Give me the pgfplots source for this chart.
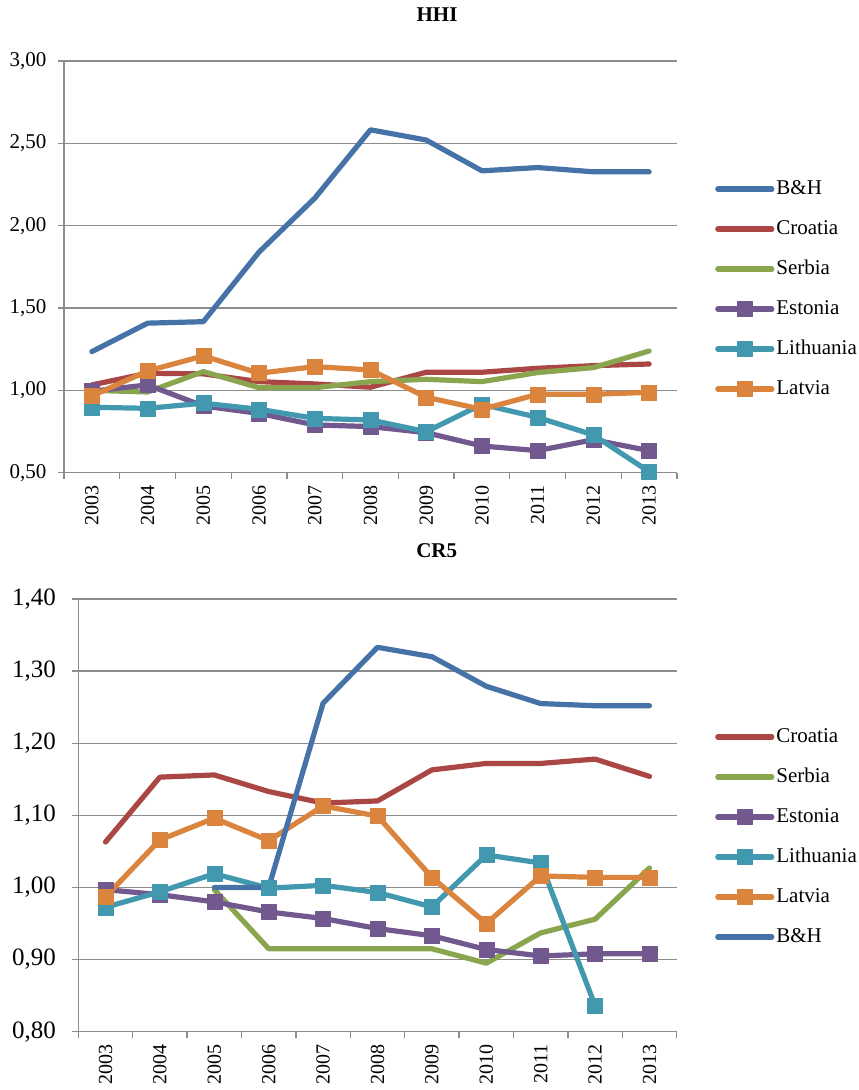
\documentclass[border=0pt]{standalone}
\usepackage{fontspec}
\setmainfont{Liberation Serif}
\usepackage{pgfplots}
\pgfplotsset{compat=1.18}
\definecolor{bh}{HTML}{4572A7}
\definecolor{cro}{HTML}{AA4643}
\definecolor{ser}{HTML}{89A54E}
\definecolor{est}{HTML}{71588F}
\definecolor{lit}{HTML}{4198AF}
\definecolor{lat}{HTML}{DB843D}
\definecolor{gridgray}{HTML}{8C8C8C}
\pgfplotsset{
  ser/.style={color=#1, line width=5.2bp, line cap=round, line join=round, mark=none},
  sermk/.style={color=#1, line width=5.2bp, line cap=round, line join=round, mark=square*, mark size=7.5bp, mark options={solid, line width=0.5bp, draw=#1, fill=#1}},
  mystyle/.style={
    scale only axis,
    clip=false,
    xmin=-0.5, xmax=10.5,
    axis x line=bottom, axis y line=left,
    axis line style={-, draw=gridgray, line width=1.3bp},
    xtick={0,...,10},
    xticklabels={2003,2004,2005,2006,2007,2008,2009,2010,2011,2012,2013},
    major x tick style={draw=none},
    minor xtick={-0.5,0.5,...,10.5},
    tick align=outside,
    major tick length=6bp, minor tick length=6bp,
    tick style={draw=gridgray, line width=1.3bp},
    ymajorgrids,
    grid style={draw=gridgray, line width=1.3bp},
    xticklabel style={rotate=90, anchor=east, font=\fontsize{20bp}{20bp}\selectfont, inner sep=2bp, xshift=-4.5bp},
    /pgf/number format/assume math mode=true,
    yticklabel style={/pgf/number format/fixed, /pgf/number format/fixed zerofill, /pgf/number format/precision=2, /pgf/number format/use comma},
    legend cell align=left,
    legend image code/.code={\draw[mark repeat=2,mark phase=2,##1] plot coordinates {(0bp,0bp) (27bp,0bp) (54bp,0bp)};},
    legend style={draw=none, fill=none, inner sep=0pt, anchor=west, row sep=17bp,
      font=\fontsize{21bp}{21bp}\selectfont,
      nodes={inner sep=2bp, text height=15bp, text depth=4bp}},
    title style={font=\fontsize{21bp}{21bp}\selectfont\bfseries, anchor=center},
  }
}
\begin{document}
\begin{tikzpicture}
\path[use as bounding box] (0bp,0bp) rectangle (859bp,1090bp);
% ---------- HHI ----------
\begin{axis}[mystyle,
  at={(64bp,617.3bp)}, anchor=south west,
  width=613bp, height=411.7bp,
  ymin=0.5, ymax=3.0, ytick={0.5,1.0,...,3.0},
  yticklabel style={font=\fontsize{21bp}{21bp}\selectfont, xshift=-8bp},
  title={HHI}, title style={at={(axis description cs:0.6085,1.099)}},
  legend style={at={(axis description cs:1.062,0.446)}},
]
\addplot[ser=bh] coordinates {(0,1.235) (1,1.408) (2,1.417) (3,1.84) (4,2.167) (5,2.582) (6,2.52) (7,2.333) (8,2.353) (9,2.327) (10,2.327)};
\addlegendentry{B\&H}
\addplot[ser=cro] coordinates {(0,1.033) (1,1.104) (2,1.10) (3,1.053) (4,1.039) (5,1.019) (6,1.11) (7,1.11) (8,1.134) (9,1.15) (10,1.16)};
\addlegendentry{Croatia}
\addplot[ser=ser] coordinates {(0,1.00) (1,0.99) (2,1.114) (3,1.016) (4,1.016) (5,1.053) (6,1.067) (7,1.053) (8,1.108) (9,1.138) (10,1.239)};
\addlegendentry{Serbia}
\addplot[sermk=est] coordinates {(0,0.995) (1,1.033) (2,0.905) (3,0.86) (4,0.79) (5,0.78) (6,0.743) (7,0.662) (8,0.634) (9,0.70) (10,0.634)};
\addlegendentry{Estonia}
\addplot[sermk=lit] coordinates {(0,0.897) (1,0.891) (2,0.922) (3,0.885) (4,0.83) (5,0.82) (6,0.749) (7,0.915) (8,0.836) (9,0.729) (10,0.506)};
\addlegendentry{Lithuania}
\addplot[sermk=lat] coordinates {(0,0.966) (1,1.118) (2,1.209) (3,1.104) (4,1.144) (5,1.124) (6,0.958) (7,0.885) (8,0.976) (9,0.976) (10,0.988)};
\addlegendentry{Latvia}
\end{axis}
% ---------- CR5 ----------
\begin{axis}[mystyle,
  at={(78.3bp,58.3bp)}, anchor=south west,
  width=598.4bp, height=432.7bp,
  ymin=0.8, ymax=1.4, ytick={0.8,0.9,...,1.41},
  yticklabel style={font=\fontsize{25bp}{25bp}\selectfont, xshift=-13bp},
  title={CR5}, title style={at={(axis description cs:0.599,1.097)}},
  legend style={at={(axis description cs:1.064,0.45)}},
]
\addplot[ser=cro] coordinates {(0,1.063) (1,1.153) (2,1.156) (3,1.133) (4,1.117) (5,1.120) (6,1.163) (7,1.172) (8,1.172) (9,1.178) (10,1.154)};
\addlegendentry{Croatia}
\addplot[ser=ser] coordinates {(2,0.997) (3,0.915) (4,0.915) (5,0.915) (6,0.915) (7,0.895) (8,0.937) (9,0.956) (10,1.027)};
\addlegendentry{Serbia}
\addplot[sermk=est] coordinates {(0,0.997) (1,0.990) (2,0.980) (3,0.966) (4,0.957) (5,0.943) (6,0.933) (7,0.914) (8,0.905) (9,0.908) (10,0.908)};
\addlegendentry{Estonia}
\addplot[sermk=lit] coordinates {(0,0.9725) (1,0.994) (2,1.019) (3,0.999) (4,1.003) (5,0.993) (6,0.973) (7,1.045) (8,1.034) (9,0.836)};
\addlegendentry{Lithuania}
\addplot[sermk=lat] coordinates {(0,0.987) (1,1.066) (2,1.096) (3,1.065) (4,1.113) (5,1.099) (6,1.014) (7,0.950) (8,1.016) (9,1.014) (10,1.014)};
\addlegendentry{Latvia}
\addplot[ser=bh] coordinates {(2,1.00) (3,1.00) (4,1.2555) (5,1.333) (6,1.32) (7,1.279) (8,1.255) (9,1.252) (10,1.252)};
\addlegendentry{B\&H}
\end{axis}
\end{tikzpicture}
\end{document}
